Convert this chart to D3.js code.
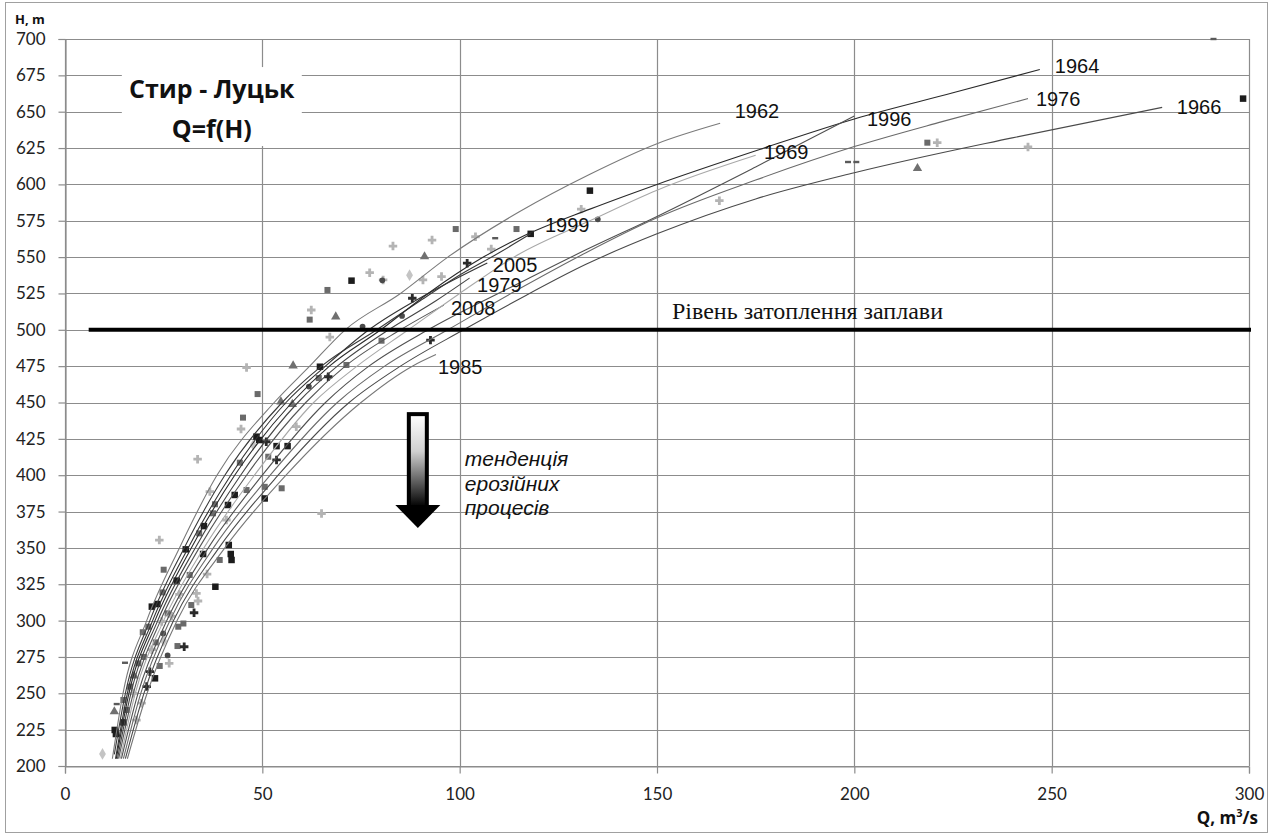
<!DOCTYPE html>
<html><head><meta charset="utf-8">
<script src="https://cdn.jsdelivr.net/npm/d3@7"></script>
<style>
html,body{margin:0;padding:0;background:#fff;}
svg{display:block;}
</style></head>
<body>
<svg id="chart" width="1272" height="834"></svg>
<script>
// ---------- DATA ----------
const xTicks = [0, 50, 100, 150, 200, 250, 300];
const yTicks = [200,225,250,275,300,325,350,375,400,425,450,475,500,525,550,575,600,625,650,675,700];

// rating curves Q=f(H): [Q, H]
const c1962 = [[12,205],[14.7,250],[20.7,300],[29,350],[38.5,400],[53,450],[62,475],[71,500],[85,525],[97,550],[115,581],[133,607],[150,628],[166,642]];
const c1999 = [[12.5,208],[15.3,250],[21.5,300],[30.2,350],[40.5,400],[55,450],[65,475],[79,500],[90,520],[99,536],[110,553],[118,566]];
const c2005 = [[12.8,205],[15.8,250],[22.2,300],[31.2,350],[42,400],[56,450],[66,475],[77,500],[92,525],[107,546]];
const c1964 = [[13,205],[16.2,250],[22.8,300],[32,350],[43,400],[57.5,450],[67,475],[80,500],[92,525],[106,550],[115,563],[133,583],[150,600],[176,624],[200,645],[225,663],[247,679]];
const c1979 = [[13.3,205],[16.7,250],[23.5,300],[33,350],[44.5,400],[59,450],[69,475],[82,500],[94,520],[102.5,535.6]];
const c2008 = [[13.6,205],[17.3,250],[24.2,300],[34,350],[46,400],[61,450],[71,475],[85,500],[96,517]];
const c1969 = [[14,205],[17.8,250],[25,300],[35.2,350],[48,400],[63,450],[74,475],[87,500],[100,525],[115,552],[133,575],[150,596],[175,620]];
const c1996 = [[14.3,205],[18.5,250],[25.8,300],[36.3,350],[50,400],[66,450],[77,475],[92,500],[115,532],[132,555],[150,578],[175,612],[200,647]];
const c1976 = [[14.8,205],[19.2,250],[26.6,300],[37.6,350],[52,400],[69,450],[81,475],[97,500],[115,528],[132,553],[150,577],[175,603],[200,626],[222,643],[244,659]];
const c1966 = [[15.3,205],[20,250],[27.5,300],[39,350],[54,400],[72,450],[85,475],[101,500],[115,521],[132,545],[150,566],[175,590],[200,608],[240,632],[278,653]];
const c1985 = [[15.8,205],[20.8,250],[28.4,300],[40.5,350],[56,400],[75,450],[88,475],[94,483]];

const curveYears = ["1962","1999","2005","1964","1979","2008","1969","1996","1976","1966","1985"];
const curveData  = [c1962,c1999,c2005,c1964,c1979,c2008,c1969,c1996,c1976,c1966,c1985];
// label anchor (left, baseline) in data units [Q, H]
const labelPos = [[169.7,645.7],[121.6,567.3],[108.4,539.8],[250.8,676.6],[104.4,526],[97.8,510.2],[177.1,617.5],[203.2,640.2],[246,653.9],[281.7,648.4],[94.5,469.6]];

// measured points [Q, H]
const squaresDark = [[298.5,659],[133,595.7],[118,566],[72.6,533.8],[64.6,474.6],[48.5,426.5],[49.2,424.2],[53.6,420],[56.4,420],[50.6,384],[43,386.4],[41.3,379.5],[35.2,365],[30.6,349],[35,345.8],[41.5,352],[42,345.8],[42.2,341.7],[38.1,323.3],[28.3,327.5],[22,309.6],[23.4,311.4],[22.8,260.3],[14.8,230],[12.6,224.8],[12.9,222]];
const squaresMid = [[218.5,628.7],[99,569.3],[114.4,569.3],[66.5,527.4],[62,507],[64.3,466.8],[48.8,455.8],[45.1,439.6],[44.3,408.6],[51.5,412.7],[54.9,391],[50.6,392],[46,389.8],[37.5,373.8],[39.2,341.7],[31.6,331.4],[24.7,319.4],[19.7,292],[21.1,295.8],[30,298],[28.5,282.5],[24,268.8],[18.6,270.6],[16.5,254.6],[14.8,245.4],[15.6,238.5],[80.2,492.5],[71.3,475.8],[32,310.7],[28.7,295.8],[26,305],[23,285],[20,275],[25,335],[34,360],[38,380]];
const crossesDark = [[101.9,545.8],[88,521.7],[92.6,492.9],[66.7,467.7],[53.6,410.5],[32.7,305.4],[30.2,282],[21.5,264.9],[20.7,254.6],[51,423]];
const crossesLight = [[221,628.7],[244,625.7],[165.8,588.8],[130.8,583],[83.1,557.6],[93,561.7],[104,564],[108,555.5],[77.2,539.3],[80.6,534.3],[90.7,534.3],[95.4,536.6],[62.4,513.6],[67.1,495],[46,474],[44.6,431.8],[58.6,433.4],[33.6,411],[36.7,388.7],[40.9,369.2],[23.9,355.4],[65,373.6],[33.7,313.5],[33.3,318.7],[26.4,270.6],[24.5,299.3],[17.3,250],[18.1,231.6],[19.4,243.2],[29,318],[27,303],[22,280],[36,332]];
const triangles = [[216,611],[91.1,550.3],[68.6,509],[57.8,475.3],[54.7,450.5],[57.6,448.8],[12.5,237.4],[17.5,262]];
const diamondsLight = [[87.3,537.6],[47.7,420.8],[9.5,208.3],[25,286]];
const dashes = [[198.4,615.4],[200.5,615.4],[15.2,271],[13.1,242.6],[291,700],[109,563]];
const dots = [[135,576],[80.4,534],[75.4,502.2],[85.4,509.5],[61.8,461],[26,276],[24.9,291.2]];

// annotations
const floodLevel = 500;
const floodStartQ = 6;
const floodLabel = "Рівень затоплення заплави";
const floodLabelPos = [153.8, 507.5];
const titleLines = ["Стир - Луцьк", "Q=f(H)"];
const titleBox = [14.4, 60, 626.4, 680.7]; // Q0,Q1,H0,H1
const titleCenterQ = 37.2;
const titleBaselines = [659.4, 631.9];
const trendLines = ["тенденція", "ерозійних", "процесів"];
const trendPos = [101.3, 406.3];
const arrowQ = 89.4, arrowTopH = 442, arrowNeckH = 379.5, arrowTipH = 363.7;

// ---------- DRAW ----------
const svg = d3.select("#chart");
const x = d3.scaleLinear().domain([0,300]).range([65,1249]);
const y = d3.scaleLinear().domain([200,700]).range([766,39]);

// outer border
svg.append("rect").attr("x",5.5).attr("y",2.5).attr("width",1262).attr("height",830)
  .attr("fill","#fff").attr("stroke","#a0a0a0").attr("stroke-width",1);

const defs = svg.append("defs");
const grad = defs.append("linearGradient").attr("id","shaftGrad").attr("x1",0).attr("y1",0).attr("x2",0).attr("y2",1);
grad.append("stop").attr("offset","0%").attr("stop-color","#ffffff");
grad.append("stop").attr("offset","40%").attr("stop-color","#d0d0d0");
grad.append("stop").attr("offset","100%").attr("stop-color","#000000");

// grid
const grid = svg.append("g");
grid.selectAll("line.h").data(yTicks).join("line")
  .attr("x1",x(0)).attr("x2",x(300))
  .attr("y1",d=>Math.round(y(d))+0.5).attr("y2",d=>Math.round(y(d))+0.5)
  .attr("stroke","#8c8c8c").attr("stroke-width",1.2);
grid.selectAll("line.v").data(xTicks).join("line")
  .attr("y1",y(200)).attr("y2",y(700))
  .attr("x1",d=>Math.round(x(d))+0.5).attr("x2",d=>Math.round(x(d))+0.5)
  .attr("stroke","#8c8c8c").attr("stroke-width",1.2);

// axes
const yAxis = svg.append("g").attr("transform",`translate(${Math.round(x(0))+0.5},0)`)
  .call(d3.axisLeft(y).tickValues(yTicks).tickSize(7).tickPadding(13).tickFormat(d3.format("d")));
const xAxis = svg.append("g").attr("transform",`translate(0,${Math.round(y(200))+0.5})`)
  .call(d3.axisBottom(x).tickValues(xTicks).tickSize(7).tickPadding(14).tickFormat(d3.format("d")));
[yAxis,xAxis].forEach(a=>{
  a.select(".domain").attr("stroke","#8c8c8c").attr("stroke-width",1.2);
  a.selectAll(".tick line").attr("stroke","#8c8c8c").attr("stroke-width",1.2);
  a.selectAll("text").attr("font-family","Lato, 'Open Sans', sans-serif").attr("font-size",17).attr("fill","#222");
});

// axis titles
svg.append("text").attr("x",15).attr("y",24).text("H, m")
  .attr("font-family","'Open Sans', sans-serif").attr("font-weight","bold").attr("font-size",13).attr("fill","#111");
const qt = svg.append("text").attr("x",1258).attr("y",824).attr("text-anchor","end")
  .attr("font-family","'Open Sans', sans-serif").attr("font-weight","bold").attr("font-size",17).attr("fill","#111");
qt.append("tspan").text("Q, m");
qt.append("tspan").attr("dy",-7).attr("font-size",11).text("3");
qt.append("tspan").attr("dy",7).text("/s");

// title box
svg.append("rect").attr("x",x(titleBox[0])).attr("width",x(titleBox[1])-x(titleBox[0]))
  .attr("y",y(titleBox[3])).attr("height",y(titleBox[2])-y(titleBox[3])).attr("fill","#fff");
titleLines.forEach((t,i)=>{
  svg.append("text").attr("x",x(titleCenterQ)).attr("y",y(titleBaselines[i])).attr("text-anchor","middle")
    .attr("font-family","'Open Sans', sans-serif").attr("font-weight","bold").attr("font-size",25).attr("fill","#111").text(t);
});

// scatter points
const pts = svg.append("g");
function sq(data, color, s){
  pts.selectAll(null).data(data).join("rect")
    .attr("x",d=>x(d[0])-s/2).attr("y",d=>y(d[1])-s/2).attr("width",s).attr("height",s).attr("fill",color);
}
function sym(data, type, size, color){
  pts.selectAll(null).data(data).join("path")
    .attr("transform",d=>`translate(${x(d[0])},${y(d[1])})`)
    .attr("d",d3.symbol().type(type).size(size)).attr("fill",color);
}
sq(squaresMid,"#6a6a6a",6);
sym(crossesLight, d3.symbolCross, 40, "#b4b4b4");
sym(diamondsLight, d3.symbolDiamond, 40, "#c4c4c4");
sym(triangles, d3.symbolTriangle, 38, "#707070");
pts.selectAll(null).data(dashes).join("rect")
  .attr("x",d=>x(d[0])-3).attr("y",d=>y(d[1])-1.2).attr("width",6).attr("height",2.4).attr("fill","#5a5a5a");
sym(dots, d3.symbolCircle, 26, "#4a4a4a");
sym(crossesDark, d3.symbolCross, 40, "#2a2a2a");
sq(squaresDark,"#1c1c1c",6.5);

// curves
const curveColors = {"1962":"#7a7a7a","1999":"#3a3a3a","2005":"#333","1964":"#2a2a2a","1979":"#444","2008":"#555","1969":"#a8a8a8","1996":"#505050","1976":"#6a6a6a","1966":"#4a4a4a","1985":"#777"};
const line = d3.line().x(d=>x(d[0])).y(d=>y(d[1])).curve(d3.curveMonotoneX);
const cg = svg.append("g");
curveYears.forEach((yr,i)=>{
  cg.append("path").attr("d",line(curveData[i])).attr("fill","none")
    .attr("stroke",curveColors[yr]).attr("stroke-width",1.1);
});

// flood level
svg.append("line").attr("x1",x(floodStartQ)).attr("x2",x(300)+2).attr("y1",y(floodLevel)).attr("y2",y(floodLevel))
  .attr("stroke","#000").attr("stroke-width",4);
svg.append("text").attr("x",x(floodLabelPos[0])).attr("y",y(floodLabelPos[1]))
  .attr("font-family","'Liberation Serif', 'DejaVu Serif', serif").attr("font-size",24).attr("fill","#111").text(floodLabel);

// year labels
curveYears.forEach((yr,i)=>{
  svg.append("text").attr("x",x(labelPos[i][0])).attr("y",y(labelPos[i][1]))
    .attr("font-family","'Liberation Sans', Arial, sans-serif").attr("font-size",20).attr("fill","#111").text(yr);
});

// trend arrow
const ax = x(arrowQ);
const shaftW = 18, headW = 45;
svg.append("rect").attr("x",ax-shaftW/2).attr("y",y(arrowTopH)).attr("width",shaftW).attr("height",y(arrowNeckH)-y(arrowTopH)+2)
  .attr("fill","url(#shaftGrad)").attr("stroke","#000").attr("stroke-width",4);
svg.append("path").attr("d",`M${ax-headW/2},${y(arrowNeckH)} L${ax+headW/2},${y(arrowNeckH)} L${ax},${y(arrowTipH)} Z`).attr("fill","#000");
trendLines.forEach((t,i)=>{
  svg.append("text").attr("x",x(trendPos[0])).attr("y",y(trendPos[1])+i*24.5)
    .attr("font-family","'Liberation Sans', Arial, sans-serif").attr("font-style","italic").attr("font-size",21).attr("fill","#111").text(t);
});
</script>
</body></html>
